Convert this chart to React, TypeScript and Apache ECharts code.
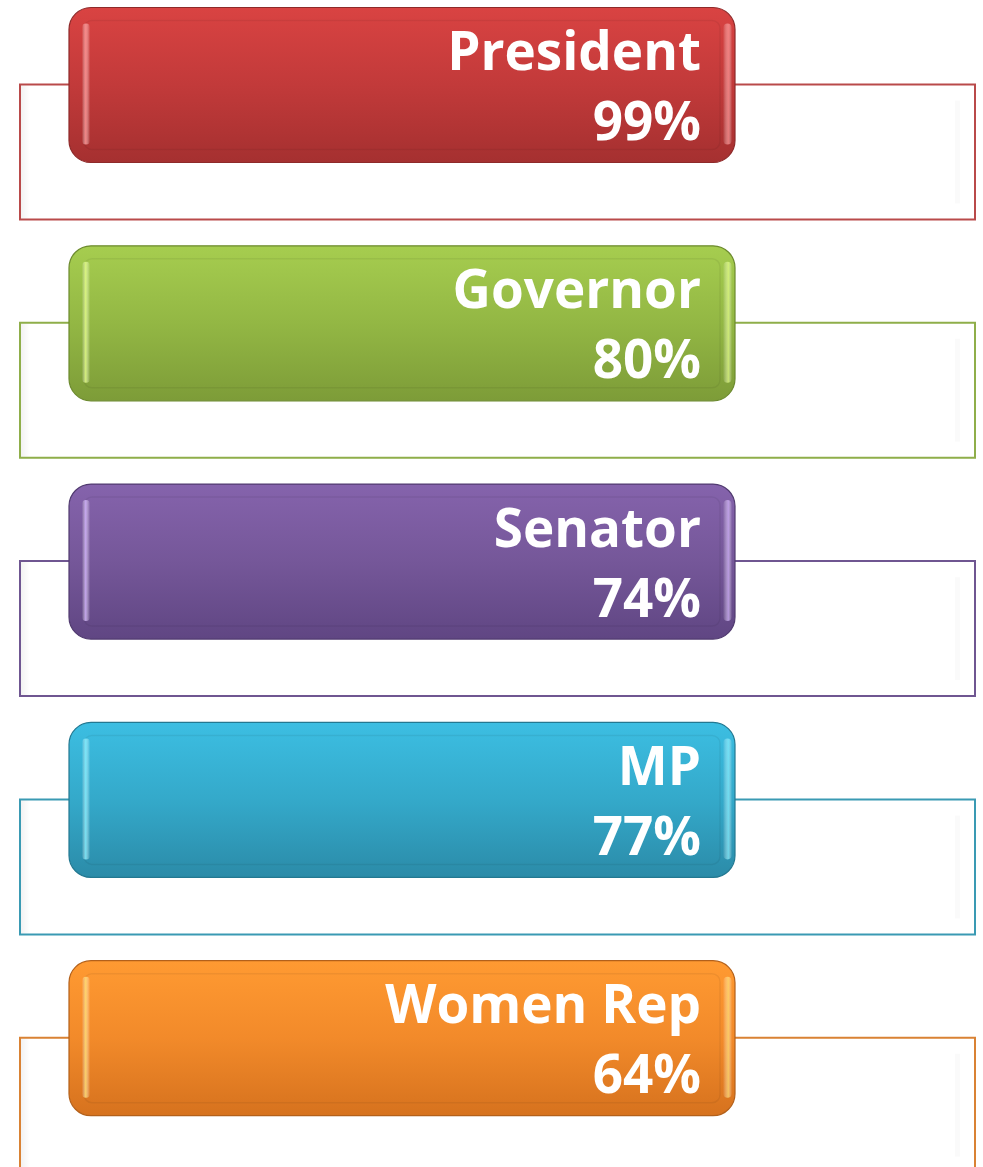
import React, { useEffect, useRef } from "react";
import * as echarts from "echarts";

// ---- data ----
const categories = ["President", "Governor", "Senator", "MP", "Women Rep"];
const values = [99, 80, 74, 77, 64];

// ---- palette (top, mid, bottom of the glossy box; outline stroke; highlight) ----
const topColors = ["#d94342", "#a6cd4f", "#8563ac", "#3cbee2", "#ff9a32"];
const midColors = ["#c23a3a", "#93b744", "#755799", "#34a9ca", "#f28a2a"];
const bottomColors = ["#a53030", "#7d9c38", "#604683", "#2b8ba8", "#d6721e"];
const strokeColors = ["#8e2a2a", "#6c8a2e", "#513b70", "#237891", "#b3601a"];
const outlineColors = ["#b94a4a", "#8fae4a", "#6f5691", "#3a9ab3", "#d98234"];
const glowColors = ["#ff9a9a", "#e6ff8a", "#d6b8ff", "#8af0ff", "#ffe27a"];

const W = 983;
const H = 1167;

export default function App() {
  const ref = useRef<HTMLDivElement>(null);

  useEffect(() => {
    document.body.style.margin = "0";
    if (!ref.current) return;
    const chart = echarts.init(ref.current, null, { renderer: "svg" });

    const renderItem = (params: any, api: any) => {
      const idx = api.value(0);
      const i = params.dataIndex;
      const band = api.size([0, 1])[1];
      const cy = api.coord([0, idx])[1];
      const top = cy - band / 2;
      const xL = api.coord([20, idx])[0];
      const xR = api.coord([975, idx])[0];
      const bL = api.coord([69, idx])[0];
      const bR = api.coord([735, idx])[0];
      const textX = api.coord([701, idx])[0];
      const boxH = 155;
      const oTop = top + 77;
      const oH = 135;
      const vert = (stops: [number, string][]) =>
        new echarts.graphic.LinearGradient(0, 0, 0, 1, stops.map(([o, c]) => ({ offset: o, color: c })));
      const horiz = (stops: [number, string][]) =>
        new echarts.graphic.LinearGradient(0, 0, 1, 0, stops.map(([o, c]) => ({ offset: o, color: c })));

      return {
        type: "group",
        children: [
          // outline frame
          {
            type: "rect",
            shape: { x: xL, y: oTop, width: xR - xL, height: oH },
            style: { fill: "#ffffff", stroke: outlineColors[i], lineWidth: 2 },
          },
          {
            type: "rect",
            shape: { x: xL + 1, y: oTop + 1, width: 9, height: oH - 2 },
            style: { fill: horiz([[0, "rgba(0,0,0,0.05)"], [1, "rgba(0,0,0,0)"]]) },
          },
          {
            type: "rect",
            shape: { x: xR - 20, y: oTop + 16, width: 5, height: oH - 32 },
            style: { fill: "rgba(0,0,0,0.02)" },
          },
          // glossy box
          {
            type: "rect",
            shape: { x: bL, y: top, width: bR - bL, height: boxH, r: 22 },
            style: {
              fill: vert([
                [0, topColors[i]],
                [0.5, midColors[i]],
                [1, bottomColors[i]],
              ]),
              stroke: strokeColors[i],
              lineWidth: 1.2,
            },
          },
          // inner bevel
          {
            type: "rect",
            shape: { x: bL + 15, y: top + 13, width: bR - bL - 30, height: boxH - 26, r: 8 },
            style: { fill: "rgba(0,0,0,0)", stroke: "rgba(0,0,0,0.06)", lineWidth: 1.5 },
          },
          // left highlight
          {
            type: "rect",
            shape: { x: bL + 13, y: top + 16, width: 8, height: boxH - 34, r: 4 },
            style: {
              fill: horiz([
                [0, "rgba(255,255,255,0)"],
                [0.45, glowColors[i]],
                [1, "rgba(255,255,255,0)"],
              ]),
              opacity: 0.8,
            },
          },
          // right highlight
          {
            type: "rect",
            shape: { x: bR - 12, y: top + 16, width: 9, height: boxH - 34, r: 4.5 },
            style: {
              fill: horiz([
                [0, "rgba(255,255,255,0)"],
                [0.6, glowColors[i]],
                [1, "rgba(255,255,255,0)"],
              ]),
              opacity: 0.7,
            },
          },
          // labels
          {
            type: "text",
            style: {
              x: textX,
              y: top + 42,
              text: categories[i],
              align: "right",
              verticalAlign: "middle",
              fill: "#ffffff",
              font: "bold 53px 'Open Sans', sans-serif",
            },
          },
          {
            type: "text",
            style: {
              x: textX,
              y: top + 112,
              text: values[i] + "%",
              align: "right",
              verticalAlign: "middle",
              fill: "#ffffff",
              font: "bold 53px 'Open Sans', sans-serif",
            },
          },
        ],
      };
    };

    chart.setOption({
      animation: false,
      grid: {
        left: 0,
        right: 0,
        top: 7.5,
        height: 238.3 * categories.length,
        outerBoundsMode: "none",
        containLabel: false,
      },
      xAxis: { type: "value", min: 0, max: W, show: false },
      yAxis: { type: "category", data: categories, inverse: true, show: false },
      series: [
        {
          type: "custom",
          renderItem,
          data: categories.map((c, i) => [i, values[i]]),
          encode: { y: 0 },
          clip: false,
        },
      ],
    });
    return () => chart.dispose();
  }, []);

  return (
    <div
      ref={ref}
      style={{ position: "absolute", left: 0, top: 0, width: W, height: H }}
    />
  );
}
